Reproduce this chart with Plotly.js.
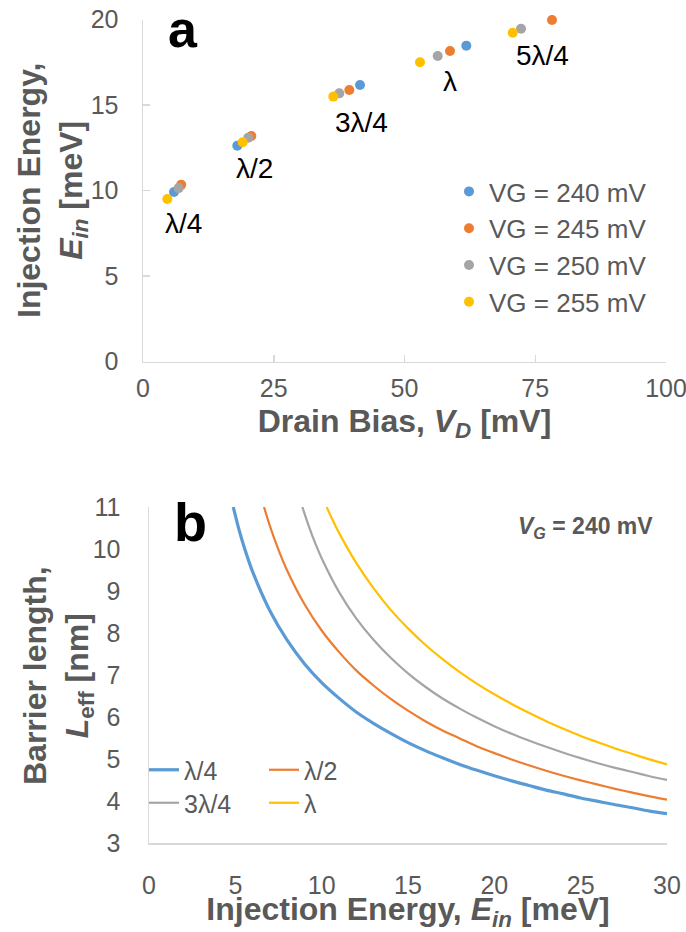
<!DOCTYPE html>
<html>
<head>
<meta charset="utf-8">
<script src="https://cdn.plot.ly/plotly-3.0.1.min.js"></script>
<style>html,body{margin:0;padding:0;background:#fff;}#chart{width:686px;height:932px;}</style>
</head>
<body>
<div id="chart"></div>
<script>
// ---------- Panel a data ----------
const seriesNamesA = ['VG = 240 mV', 'VG = 245 mV', 'VG = 250 mV', 'VG = 255 mV'];
const vd240 = [5.93, 18.03, 41.49, 61.82];
const ein240 = [9.91, 12.62, 16.17, 18.47];
const vd245 = [7.30, 20.71, 39.45, 58.70, 78.20];
const ein245 = [10.33, 13.19, 15.88, 18.16, 19.97];
const vd250 = [6.81, 20.13, 37.53, 56.35, 72.28];
const ein250 = [10.14, 13.09, 15.68, 17.87, 19.46];
const vd255 = [4.65, 19.06, 36.39, 52.96, 70.69];
const ein255 = [9.50, 12.82, 15.49, 17.50, 19.23];
const modeLabels = ['λ/4', 'λ/2', '3λ/4', 'λ', '5λ/4'];

// ---------- Panel b data ----------
const seriesNamesB = ['λ/4', 'λ/2', '3λ/4', 'λ'];
const eQuarter = [4.88, 5.2, 5.5, 6, 7, 8, 9, 10, 11, 12, 13, 14, 15, 16, 17, 18, 19, 20, 21, 22, 23, 24, 25, 26, 27, 28, 29, 30];
const lQuarter = [11.0, 10.48, 10.06, 9.46, 8.53, 7.83, 7.27, 6.82, 6.45, 6.12, 5.85, 5.61, 5.39, 5.20, 5.03, 4.87, 4.73, 4.60, 4.48, 4.37, 4.26, 4.17, 4.07, 3.99, 3.91, 3.84, 3.76, 3.70];
const eHalf = [6.66, 7, 7.5, 8, 9, 10, 11, 12, 13, 14, 15, 16, 17, 18, 19, 20, 21, 22, 23, 24, 25, 26, 27, 28, 29, 30];
const lHalf = [11.0, 10.55, 9.98, 9.49, 8.69, 8.06, 7.55, 7.11, 6.75, 6.43, 6.15, 5.90, 5.68, 5.49, 5.30, 5.14, 4.99, 4.85, 4.72, 4.60, 4.49, 4.39, 4.29, 4.20, 4.11, 4.03];
const eThreeQ = [8.88, 9.2, 9.5, 10, 11, 12, 13, 14, 15, 16, 17, 18, 19, 20, 21, 22, 23, 24, 25, 26, 27, 28, 29, 30];
const lThreeQ = [11.0, 10.61, 10.27, 9.78, 8.98, 8.35, 7.84, 7.41, 7.04, 6.72, 6.44, 6.20, 5.98, 5.78, 5.60, 5.44, 5.29, 5.15, 5.02, 4.90, 4.79, 4.69, 4.59, 4.50];
const eFull = [10.29, 10.6, 11, 12, 13, 14, 15, 16, 17, 18, 19, 20, 21, 22, 23, 24, 25, 26, 27, 28, 29, 30];
const lFull = [11.0, 10.72, 10.39, 9.67, 9.07, 8.55, 8.11, 7.72, 7.38, 7.07, 6.79, 6.54, 6.31, 6.10, 5.90, 5.72, 5.55, 5.40, 5.25, 5.12, 4.99, 4.87];

const colors = ['#5B9BD5', '#ED7D31', '#A5A5A5', '#FFC000'];
const FONT = 'Liberation Sans, Arial, sans-serif';
const TXT = '#595959';

const aX = [vd240, vd245, vd250, vd255];
const aY = [ein240, ein245, ein250, ein255];
const traces = [];
for (let i = 0; i < 4; i++) {
  traces.push({
    type: 'scatter', mode: 'markers', x: aX[i], y: aY[i], name: seriesNamesA[i],
    xaxis: 'x', yaxis: 'y', legend: 'legend3', cliponaxis: false,
    marker: {color: colors[i], size: 10}
  });
}
const bX = [eQuarter, eHalf, eThreeQ, eFull];
const bY = [lQuarter, lHalf, lThreeQ, lFull];
const widths = [3.2, 2.2, 2.2, 2.2];
const legs = ['legend', 'legend', 'legend2', 'legend2'];
for (let i = 0; i < 4; i++) {
  traces.push({
    type: 'scatter', mode: 'lines', x: bX[i], y: bY[i], name: seriesNamesB[i],
    xaxis: 'x2', yaxis: 'y2', legend: legs[i], cliponaxis: true,
    line: {color: colors[i], width: widths[i], shape: 'spline', smoothing: 0.8}
  });
}

// label positions for panel a annotations
const labelPos = [[7.8, 8.05], [21.4, 11.3], [41.8, 13.95], [58.7, 16.35], [76.4, 17.9]];
const annotations = modeLabels.map((t, i) => ({
  text: t, x: labelPos[i][0], y: labelPos[i][1], xref: 'x', yref: 'y',
  xanchor: 'center', yanchor: 'middle',
  showarrow: false, font: {family: FONT, size: 28, color: '#000'}
}));
annotations.push({text: '<b>a</b>', x: 183/686, y: 1 - 29/932, xref: 'paper', yref: 'paper',
  xanchor: 'center', yanchor: 'middle',
  showarrow: false, font: {family: FONT, size: 52, color: '#000'}});
annotations.push({text: '<b>b</b>', x: 190/686, y: 1 - 522/932, xref: 'paper', yref: 'paper',
  xanchor: 'center', yanchor: 'middle',
  showarrow: false, font: {family: FONT, size: 54, color: '#000'}});
annotations.push({text: '<b><i>V<sub>G</sub></i> = 240 mV</b>', x: 655/686, y: 1 - 527/932, xref: 'paper', yref: 'paper',
  xanchor: 'right', yanchor: 'middle', showarrow: false, font: {family: FONT, size: 23, color: TXT}});
annotations.push({text: '<b>Injection Energy,<br><i>E<sub>in</sub></i> [meV]</b>', x: 52/686, y: 1 - 191/932,
  xref: 'paper', yref: 'paper', xanchor: 'center', yanchor: 'middle', textangle: -90, showarrow: false,
  font: {family: FONT, size: 32, color: TXT}});
annotations.push({text: '<b>Barrier length,<br><i>L</i><sub>eff</sub> [nm]</b>', x: 58/686, y: 1 - 675/932,
  xref: 'paper', yref: 'paper', xanchor: 'center', yanchor: 'middle', textangle: -90, showarrow: false,
  font: {family: FONT, size: 32, color: TXT}});

const axisCommon = {
  showgrid: false, zeroline: false, showline: true, linecolor: '#D9D9D9', linewidth: 1.5,
  ticklabeloverflow: 'allow',
  tickfont: {family: FONT, size: 25, color: TXT}
};

const layout = {
  width: 686, height: 932, margin: {l: 0, r: 0, t: 0, b: 0},
  paper_bgcolor: '#fff', plot_bgcolor: '#fff', showlegend: true,
  xaxis: Object.assign({}, axisCommon, {
    domain: [143/686, 666/686], anchor: 'y', range: [0, 100], dtick: 25, tick0: 0,
    ticks: 'inside', ticklen: 7, tickcolor: '#D9D9D9', tickwidth: 1.5, ticklabelstandoff: 4,
    title: {text: '<b>Drain Bias, <i>V<sub>D</sub></i> [mV]</b>', font: {family: FONT, size: 32, color: TXT}, standoff: 8}
  }),
  yaxis: Object.assign({}, axisCommon, {
    domain: [1 - 361.5/932, 1 - 19.5/932], anchor: 'x', range: [0, 20], dtick: 5, tick0: 0,
    ticks: 'inside', ticklen: 7, tickcolor: '#D9D9D9', tickwidth: 1.5, ticklabelstandoff: 18
  }),
  xaxis2: Object.assign({}, axisCommon, {
    domain: [149/686, 667/686], anchor: 'y2', range: [0, 30], dtick: 5, tick0: 0,
    ticks: '', ticklabelstandoff: 19,
    title: {text: '<b>Injection Energy, <i>E<sub>in</sub></i> [meV]</b>', font: {family: FONT, size: 32, color: TXT}, standoff: 9}
  }),
  yaxis2: Object.assign({}, axisCommon, {
    domain: [1 - 843/932, 1 - 507/932], anchor: 'x2', range: [3, 11], dtick: 1, tick0: 3,
    ticks: '', ticklabelstandoff: 22
  }),
  legend3: {x: 449/686, y: 1 - 168/932, xanchor: 'left', yanchor: 'top', orientation: 'v',
    bgcolor: 'rgba(0,0,0,0)', font: {family: FONT, size: 26, color: TXT}, tracegroupgap: 0, itemwidth: 30},
  legend: {x: 144/686, y: 1 - 770/932, xanchor: 'left', yanchor: 'middle', orientation: 'h',
    bgcolor: 'rgba(0,0,0,0)', font: {family: FONT, size: 25, color: TXT}, entrywidth: 75, entrywidthmode: 'pixels', itemwidth: 30},
  legend2: {x: 144/686, y: 1 - 803/932, xanchor: 'left', yanchor: 'middle', orientation: 'h',
    bgcolor: 'rgba(0,0,0,0)', font: {family: FONT, size: 25, color: TXT}, entrywidth: 75, entrywidthmode: 'pixels', itemwidth: 30},
  annotations: annotations
};

Plotly.newPlot('chart', traces, layout, {displayModeBar: false, staticPlot: true});
</script>
</body>
</html>
